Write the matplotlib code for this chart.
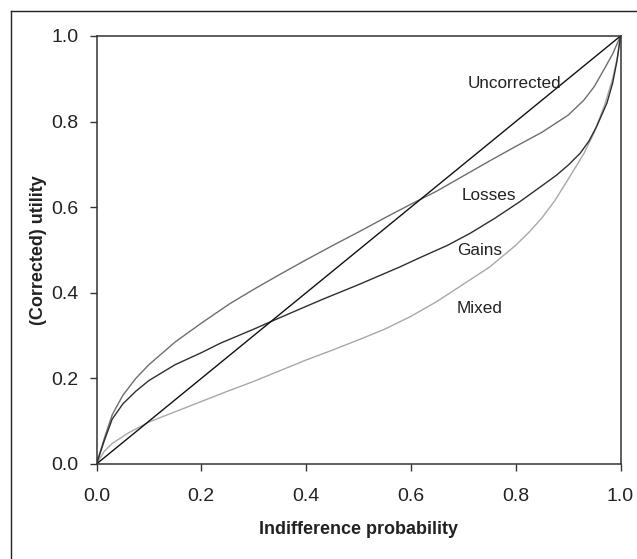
import matplotlib
matplotlib.use("Agg")
import matplotlib.pyplot as plt
from matplotlib.lines import Line2D

plt.rcParams['font.family'] = ['Liberation Sans', 'DejaVu Sans']

# Data
uncorrected_x = [0.0, 1.0]
uncorrected_y = [0.0, 1.0]

losses_x = [0.0, 0.015, 0.03, 0.05, 0.075, 0.1, 0.15, 0.2, 0.255, 0.3, 0.35, 0.4, 0.45,
            0.5, 0.55, 0.6, 0.65, 0.7, 0.75, 0.8, 0.85, 0.9, 0.93, 0.95, 0.97, 0.985, 1.0]
losses_y = [0.0, 0.06, 0.115, 0.16, 0.2, 0.232, 0.285, 0.329, 0.375, 0.408, 0.443, 0.477, 0.51,
            0.542, 0.575, 0.607, 0.638, 0.673, 0.708, 0.742, 0.775, 0.815, 0.85, 0.882, 0.925, 0.958, 1.0]

gains_x = [0.0, 0.015, 0.03, 0.05, 0.075, 0.1, 0.15, 0.2, 0.236, 0.3, 0.339, 0.388, 0.43,
           0.5, 0.54, 0.58, 0.617, 0.67, 0.713, 0.76, 0.808, 0.85, 0.878, 0.9, 0.923, 0.94,
           0.955, 0.974, 0.985, 0.993, 1.0]
gains_y = [0.0, 0.055, 0.105, 0.14, 0.17, 0.195, 0.232, 0.26, 0.282, 0.315, 0.336, 0.362, 0.384,
           0.419, 0.44, 0.461, 0.482, 0.511, 0.539, 0.574, 0.613, 0.65, 0.675, 0.698, 0.726, 0.755,
           0.79, 0.843, 0.89, 0.94, 1.0]

mixed_x = [0.0, 0.015, 0.03, 0.06, 0.1, 0.15, 0.2, 0.25, 0.3, 0.35, 0.4, 0.45, 0.5, 0.55,
           0.6, 0.65, 0.7, 0.75, 0.8, 0.825, 0.85, 0.875, 0.9, 0.93, 0.95, 0.97, 0.985, 0.995, 1.0]
mixed_y = [0.0, 0.03, 0.048, 0.072, 0.098, 0.122, 0.146, 0.17, 0.193, 0.218, 0.243, 0.266, 0.29,
           0.315, 0.345, 0.38, 0.42, 0.46, 0.511, 0.541, 0.575, 0.616, 0.665, 0.725, 0.775, 0.84, 0.9, 0.955, 1.0]

labels = ["Uncorrected", "Losses", "Gains", "Mixed"]
label_x = [0.797, 0.748, 0.732, 0.731]
label_y = [0.890, 0.627, 0.498, 0.364]

ticks = [0.0, 0.2, 0.4, 0.6, 0.8, 1.0]
tick_labels = ["0.0", "0.2", "0.4", "0.6", "0.8", "1.0"]

fig = plt.figure(figsize=(6.37, 5.59), dpi=100)
ax = fig.add_axes([96.5/637, 1-464/559, 524/637, 428/559])

ax.plot(mixed_x, mixed_y, color='#a8a8a8', lw=1.0, solid_joinstyle='round')
ax.plot(losses_x, losses_y, color='#6e6e6e', lw=1.0, solid_joinstyle='round')
ax.plot(gains_x, gains_y, color='#2e2e2e', lw=1.0, solid_joinstyle='round')
ax.plot(uncorrected_x, uncorrected_y, color='#111111', lw=1.0)

for t, lx, ly in zip(labels, label_x, label_y):
    ax.text(lx, ly, t, ha='center', va='center', fontsize=12.3, color='#222222')

ax.set_xlim(0, 1)
ax.set_ylim(0, 1)
ax.set_xticks(ticks)
ax.set_xticklabels(tick_labels)
ax.set_yticks(ticks)
ax.set_yticklabels(tick_labels)
ax.tick_params(direction='out', length=5, width=1, colors='#333333', labelsize=14,
               labelcolor='#222222', pad=8)
ax.tick_params(axis='x', pad=12)
for s in ax.spines.values():
    s.set_color('#333333')
    s.set_linewidth(1.1)

ax.set_xlabel("Indifference probability", fontsize=13, fontweight='bold', color='#222222', labelpad=12)
ax.set_ylabel("(Corrected) utility", fontsize=13, fontweight='bold', color='#222222', labelpad=3)

# outer frame (top and left edges visible)
fig.add_artist(Line2D([11/637, 1.0], [1-11/559, 1-11/559], transform=fig.transFigure,
                      color='#222222', lw=1.0))
fig.add_artist(Line2D([11/637, 11/637], [0.0, 1-11/559], transform=fig.transFigure,
                      color='#222222', lw=1.0))

fig.savefig("out.png", dpi=100)
